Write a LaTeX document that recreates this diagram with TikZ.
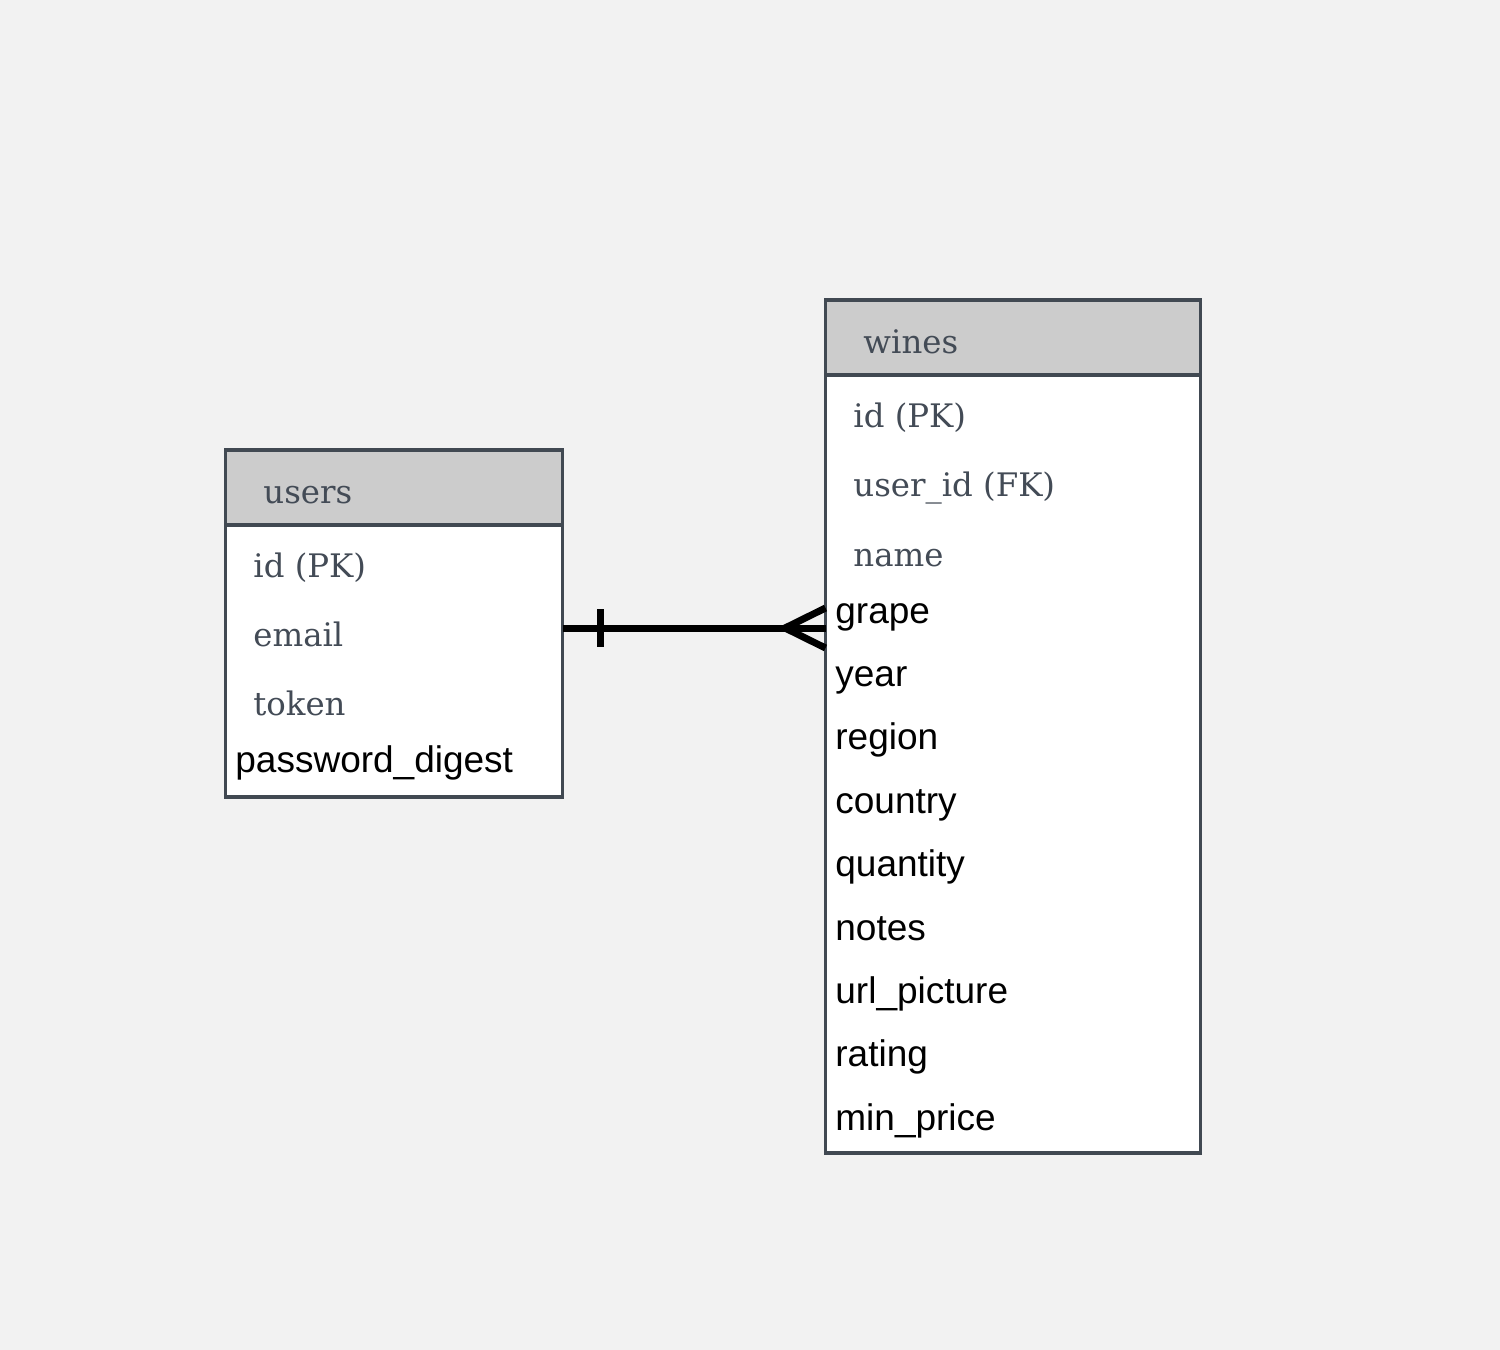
\documentclass[tikz,border=0pt]{standalone}
\usepackage{fontspec}
\usepackage{xcolor}
\usepackage{tikz}
\setmainfont{DejaVu Serif}
\newfontfamily\fieldsans{Liberation Sans}
\definecolor{pagebg}{HTML}{F2F2F2}
\definecolor{tabline}{HTML}{414952}
\definecolor{headfill}{HTML}{CCCCCC}
\definecolor{keytext}{HTML}{434B56}

\tikzset{
  tabhead/.style={draw=tabline,line width=1.8pt,fill=headfill,rectangle,anchor=north west,inner sep=0pt,outer sep=0pt},
  tabbody/.style={draw=tabline,line width=1.8pt,fill=white,rectangle,anchor=north west,inner sep=0pt,outer sep=0pt},
  keyfield/.style={anchor=base west,inner sep=0pt,text=keytext,font=\fontsize{16.2pt}{19pt}\selectfont},
  plainfield/.style={anchor=base west,inner sep=0pt,text=black,font=\fieldsans\fontsize{18.5pt}{22pt}\selectfont}
}

\begin{document}
\begin{tikzpicture}[x=0.5pt,y=-0.5pt]
\fill[pagebg] (0,0) rectangle (1500,1350);
\useasboundingbox (0,0) rectangle (1500,1350);

% users table
\node[tabbody,minimum width=168.5pt,minimum height=136pt] (usersbody) at (225.5,525) {};
\node[tabhead,minimum width=168.5pt,minimum height=37.5pt] (usershead) at (225.5,450) {};
\node[keyfield] (userstitle) at (263,503) {users};
\node[keyfield] (usersid) at (253,577) {id (PK)};
\node[keyfield] (usersemail) at (253,646) {email};
\node[keyfield] (userstoken) at (253,715) {token};
\node[plainfield] (userspwd) at (235,772) {password\_digest};

% wines table
\node[tabbody,minimum width=187.5pt,minimum height=389pt] (winesbody) at (825.5,375) {};
\node[tabhead,minimum width=187.5pt,minimum height=37.5pt] (wineshead) at (825.5,300) {};
\node[keyfield] (winestitle) at (863,353) {wines};
\node[keyfield] (winesid) at (853,427) {id (PK)};
\node[keyfield] (winesuser) at (853,496) {user\_id (FK)};
\node[keyfield] (winesname) at (853,566) {name};
\node[plainfield] (winesgrape) at (835,623) {grape};
\node[plainfield] (winesyear) at (835,686.4) {year};
\node[plainfield] (winesregion) at (835,749.8) {region};
\node[plainfield] (winescountry) at (835,813.2) {country};
\node[plainfield] (winesqty) at (835,876.6) {quantity};
\node[plainfield] (winesnotes) at (835,940) {notes};
\node[plainfield] (winesurl) at (835,1003.4) {url\_picture};
\node[plainfield] (winesrating) at (835,1066.8) {rating};
\node[plainfield] (winesprice) at (835,1130.2) {min\_price};

% one-to-many link
\coordinate (link) at (0,628);
\coordinate (onebar) at (600,628);
\coordinate (crowtip) at (785,628);
\draw[line width=3.5pt] (usersbody.east |- link) -- (winesbody.west |- link);
\draw[line width=3.5pt] ([yshift=9.5pt]onebar) -- ([yshift=-9.5pt]onebar);
\draw[line width=3.5pt] (winesbody.west |- 0,608) -- (crowtip) -- (winesbody.west |- 0,648);
\end{tikzpicture}
\end{document}
